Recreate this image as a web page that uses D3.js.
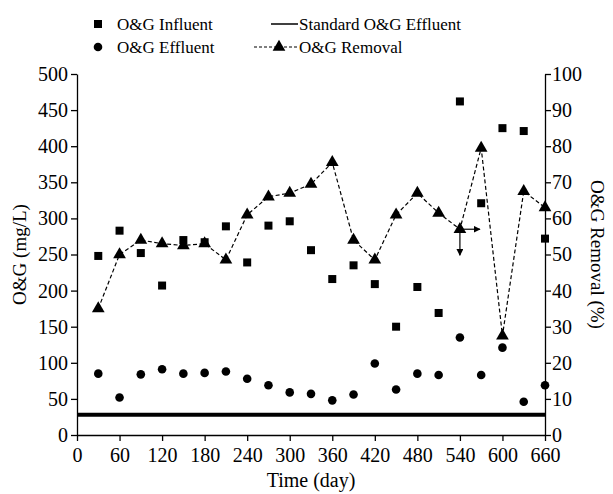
<!DOCTYPE html>
<html lang="en">
<head>
  <meta charset="UTF-8">
  <title>O&amp;G Influent, Effluent and Removal</title>
  <style>
    body { margin: 0; background: #ffffff; }
    #chart { width: 613px; height: 494px; }
    text { font-family: "Liberation Serif", "Times New Roman", serif; fill: #000; }
  </style>
  <script src="https://d3js.org/d3.v7.min.js"></script>
</head>
<body>
<div id="chart"></div>
<script>
  // data
  var days = [30, 60, 90, 120, 150, 180, 210, 240, 270, 300, 330, 360, 390, 420, 450, 480, 510, 540, 570, 600, 630, 660];
  var influent = [248, 283, 252, 207, 270, 267, 289, 239, 290, 296, 256, 216, 235, 209, 150, 205, 169, 462, 321, 425, 421, 272];
  var effluent = [85, 52, 84, 91, 85, 86, 88, 78, 69, 59, 57, 48, 56, 99, 63, 85, 83, 135, 83, 121, 46, 69];
  var removal = [35, 50, 54, 53, 52.5, 53, 48.5, 61, 66, 67, 69.5, 75.5, 54, 48.5, 61, 67, 61.5, 57, 79.5, 27.5, 67.5, 63];
  var standard = 28;

  var xTicks = [0, 60, 120, 180, 240, 300, 360, 420, 480, 540, 600, 660];
  var yTicks = [0, 50, 100, 150, 200, 250, 300, 350, 400, 450, 500];
  var y2Ticks = [0, 10, 20, 30, 40, 50, 60, 70, 80, 90, 100];

  var width = 613, height = 494;
  var margin = {left: 77, right: 68, top: 74, bottom: 59};

  var svg = d3.select("#chart").append("svg")
    .attr("width", width)
    .attr("height", height);

  var x = d3.scaleLinear().domain([0, 660]).range([margin.left, width - margin.right]);
  var y = d3.scaleLinear().domain([0, 500]).range([height - margin.bottom, margin.top]);
  var y2 = d3.scaleLinear().domain([0, 100]).range([height - margin.bottom, margin.top]);

  // standard effluent line
  svg.append("line")
    .attr("x1", x(0)).attr("x2", x(660))
    .attr("y1", y(standard)).attr("y2", y(standard))
    .attr("stroke", "#000").attr("stroke-width", 4);

  // axes
  function styleAxis(g) {
    g.selectAll("path.domain").attr("stroke", "#000").attr("stroke-width", 1.3);
    g.selectAll(".tick line").attr("stroke", "#000").attr("stroke-width", 1.3);
    g.selectAll(".tick text")
      .style("font-family", '"Liberation Serif", "Times New Roman", serif')
      .style("font-size", "20px")
      .attr("fill", "#000");
  }

  svg.append("g")
    .attr("transform", "translate(0," + y(0) + ")")
    .call(d3.axisBottom(x).tickValues(xTicks).tickSize(6).tickSizeOuter(0).tickPadding(7))
    .call(styleAxis);

  svg.append("g")
    .attr("transform", "translate(" + x(0) + ",0)")
    .call(d3.axisLeft(y).tickValues(yTicks).tickSize(6).tickSizeOuter(0).tickPadding(3))
    .call(styleAxis);

  svg.append("g")
    .attr("transform", "translate(" + x(660) + ",0)")
    .call(d3.axisRight(y2).tickValues(y2Ticks).tickSize(6).tickSizeOuter(0).tickPadding(1))
    .call(styleAxis);

  // removal line (dashed)
  var line = d3.line()
    .x(function(d, i) { return x(days[i]); })
    .y(function(d) { return y2(d); });

  svg.append("path")
    .datum(removal)
    .attr("d", line)
    .attr("fill", "none")
    .attr("stroke", "#000")
    .attr("stroke-width", 1.2)
    .attr("stroke-dasharray", "4,2.5");

  // influent squares
  var sq = 8;
  svg.selectAll(".inf").data(influent).enter().append("rect")
    .attr("x", function(d, i) { return x(days[i]) - sq / 2; })
    .attr("y", function(d) { return y(d) - sq / 2; })
    .attr("width", sq).attr("height", sq)
    .attr("fill", "#000");

  // effluent circles
  svg.selectAll(".eff").data(effluent).enter().append("circle")
    .attr("cx", function(d, i) { return x(days[i]); })
    .attr("cy", function(d) { return y(d); })
    .attr("r", 4.3)
    .attr("fill", "#000");

  // removal triangles
  var tri = d3.symbol().type(d3.symbolTriangle).size(70);
  svg.selectAll(".rem").data(removal).enter().append("path")
    .attr("d", tri)
    .attr("transform", function(d, i) { return "translate(" + x(days[i]) + "," + y2(d) + ")"; })
    .attr("fill", "#000");

  // small arrows on the day-540 point
  svg.append("defs").append("marker")
    .attr("id", "arrow")
    .attr("viewBox", "0 0 10 10")
    .attr("refX", 9).attr("refY", 5)
    .attr("markerWidth", 7).attr("markerHeight", 7)
    .attr("markerUnits", "userSpaceOnUse")
    .attr("orient", "auto")
    .append("path").attr("d", "M0,0L10,5L0,10Z").attr("fill", "#000");

  var ax = x(540), ay = y2(removal[17]);
  svg.append("line")
    .attr("x1", ax).attr("y1", ay).attr("x2", ax + 20).attr("y2", ay)
    .attr("stroke", "#000").attr("stroke-width", 1.2)
    .attr("marker-end", "url(#arrow)");
  svg.append("line")
    .attr("x1", ax).attr("y1", ay).attr("x2", ax).attr("y2", ay + 26)
    .attr("stroke", "#000").attr("stroke-width", 1.2)
    .attr("marker-end", "url(#arrow)");

  // axis titles
  svg.append("text")
    .attr("x", (x(0) + x(660)) / 2).attr("y", 487)
    .attr("text-anchor", "middle")
    .style("font-size", "20px")
    .text("Time (day)");

  svg.append("text")
    .attr("transform", "translate(26," + (y(0) + y(500)) / 2 + ") rotate(-90)")
    .attr("text-anchor", "middle")
    .style("font-size", "19px")
    .text("O&G (mg/L)");

  svg.append("text")
    .attr("transform", "translate(591," + (y(0) + y(500)) / 2 + ") rotate(90)")
    .attr("text-anchor", "middle")
    .style("font-size", "19px")
    .text("O&G Removal (%)");

  // legend
  var legend = svg.append("g");
  legend.append("rect").attr("x", 94).attr("y", 20).attr("width", 8).attr("height", 8).attr("fill", "#000");
  legend.append("text").attr("x", 117).attr("y", 30).style("font-size", "17px").text("O&G Influent");

  legend.append("circle").attr("cx", 98).attr("cy", 47).attr("r", 4.3).attr("fill", "#000");
  legend.append("text").attr("x", 117).attr("y", 53).style("font-size", "17px").text("O&G Effluent");

  legend.append("line").attr("x1", 271).attr("x2", 298).attr("y1", 24).attr("y2", 24)
    .attr("stroke", "#000").attr("stroke-width", 1.5);
  legend.append("text").attr("x", 299).attr("y", 30).style("font-size", "17px").text("Standard O&G Effluent");

  legend.append("line").attr("x1", 254).attr("x2", 297).attr("y1", 47).attr("y2", 47)
    .attr("stroke", "#000").attr("stroke-width", 1.2).attr("stroke-dasharray", "3,2");
  legend.append("path").attr("d", tri).attr("transform", "translate(279,47)").attr("fill", "#000");
  legend.append("text").attr("x", 299).attr("y", 53).style("font-size", "17px").text("O&G Removal");
</script>
</body>
</html>
